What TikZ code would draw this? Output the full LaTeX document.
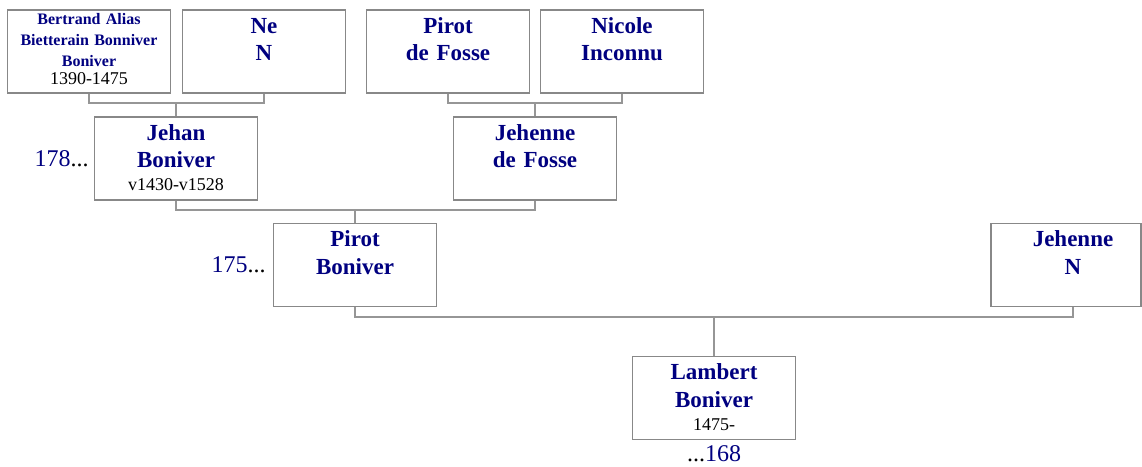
\documentclass[tikz,border=0pt]{standalone}
\usepackage{fontspec}
\setmainfont{Liberation Serif}
\usepackage{tikz}
\usetikzlibrary{positioning}
\definecolor{namenavy}{RGB}{0,0,128}
\definecolor{boxgray}{RGB}{136,136,136}
\definecolor{linkgray}{RGB}{150,150,150}
\newcommand{\lifespan}[1]{{\fontsize{18}{20}\selectfont\mdseries\color{black}#1}}
\newcommand{\dotsblack}{{\color{black}...}}

\begin{document}
\begin{tikzpicture}[x=1pt, y=1pt,
    person/.style={rectangle, draw=boxgray, line width=1.2pt, fill=white,
                   text width=157pt, inner xsep=3pt, inner ysep=0pt, align=center,
                   text height=23pt, text depth=60pt, text=namenavy,
                   font=\fontsize{23}{27.5}\selectfont\bfseries},
    elder/.style={person, text height=14pt, text depth=69pt,
                  font=\fontsize{16}{21}\selectfont\bfseries},
    link/.style={draw=linkgray, line width=1.2pt},
    sosa/.style={inner sep=0pt, text=namenavy, font=\fontsize{24}{28}\selectfont}
]
    \useasboundingbox (0,0) rectangle (1142,-466);

    % grandparents
    \node[elder]  (bert)   at (89,-51.5)  {Bertrand Alias\\Bietterain Bonniver\\Boniver\\[-3pt]\lifespan{1390-1475}};
    \node[person] (nen)    at (264,-51.5) {Ne\\N};
    \node[person] (pirotf) at (448,-51.5) {Pirot\\de Fosse};
    \node[person] (nicole) at (622,-51.5) {Nicole\\Inconnu};

    % parents
    \node[person] (jehan) at (176,-158.5) {Jehan\\Boniver\\[-4.5pt]\lifespan{v1430-v1528}};
    \node[person] (jehf)  at (535,-158.5) {Jehenne\\de Fosse};
    \node[sosa, left=5pt of jehan] (n178) {178\dotsblack};

    % couple
    \node[person] (pirotb) at (355,-265) {Pirot\\Boniver};
    \node[person, text width=144pt] (jehn) at (1066,-265) {\hspace*{14pt}Jehenne\\\hspace*{14pt}N};
    \node[sosa, left=7pt of pirotb] (n175) {175\dotsblack};

    % child
    \node[person] (lambert) at (714,-398) {Lambert\\Boniver\\[-4.5pt]\lifespan{1475-}};
    \node[sosa, below=5pt of lambert] (n168) {\dotsblack168};

    % family lines
    \coordinate (f1) at (176,-103);
    \coordinate (f2) at (535,-103);
    \coordinate (f3) at (355,-210);
    \coordinate (f4) at (714,-317);
    \draw[link] (bert.south) |- (f1) -| (nen.south);
    \draw[link] (f1) -- (jehan.north);
    \draw[link] (pirotf.south) |- (f2) -| (nicole.south);
    \draw[link] (f2) -- (jehf.north);
    \draw[link] (jehan.south) |- (f3) -| (jehf.south);
    \draw[link] (f3) -- (pirotb.north);
    \draw[link] (pirotb.south) |- (f4) -| ([xshift=7pt]jehn.south);
    \draw[link] (f4) -- (lambert.north);
\end{tikzpicture}
\end{document}
